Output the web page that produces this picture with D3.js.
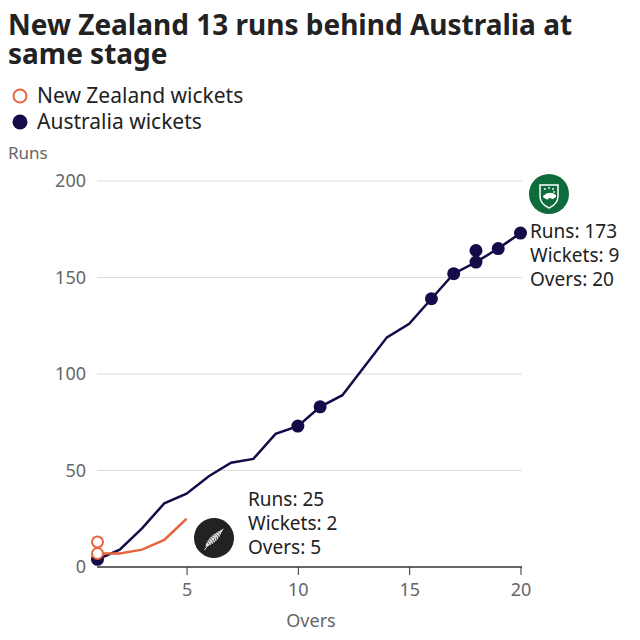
<!DOCTYPE html>
<html>
<head>
<meta charset="utf-8">
<script src="https://cdn.jsdelivr.net/npm/d3@7"></script>
<style>
  body { margin: 0; background: #fff; }
  text { font-family: "Noto Sans", "Open Sans", sans-serif; }
</style>
</head>
<body>
<div id="chart"></div>
<script>
// runs at end of each over
let overs = [1, 2, 3, 4, 5, 6, 7, 8, 9, 10, 11, 12, 13, 14, 15, 16, 17, 18, 19, 20];
let ausRuns = [4, 9, 20, 33, 38, 47, 54, 56, 69, 73, 83, 89, 104, 119, 126, 139, 152, 158, 165, 173];
let nzOvers = [1, 2, 3, 4, 5];
let nzRuns = [7, 7, 9, 14, 25];

// wickets: [over, runs]
let ausWickets = [[1, 4], [10, 73], [11, 83], [16, 139], [17, 152], [18, 158], [18, 164], [19, 165], [20, 173]];
let nzWickets = [[1, 7], [1, 13]];

let yTicks = [0, 50, 100, 150, 200];
let xTicks = [5, 10, 15, 20];

let nzColor = '#e8643c';
let ausColor = '#140c48';

let width = 640, height = 640;
let x = d3.scaleLinear().domain([1, 20]).range([97.5, 520.5]);
let y = d3.scaleLinear().domain([0, 200]).range([567, 181]);

let svg = d3.select('#chart').append('svg')
    .attr('width', width)
    .attr('height', height);

// title
let title = svg.append('text').attr('x', 8).attr('y', 35)
    .attr('font-size', 28).attr('font-weight', 'bold').attr('fill', '#222');
title.append('tspan').attr('x', 8).attr('y', 35).text('New Zealand 13 runs behind Australia at');
title.append('tspan').attr('x', 8).attr('y', 64).text('same stage');

// legend
svg.append('circle').attr('cx', 20).attr('cy', 96).attr('r', 6.5)
    .attr('fill', '#fff').attr('stroke', nzColor).attr('stroke-width', 2);
svg.append('text').attr('x', 37).attr('y', 103).attr('font-size', 21).attr('fill', '#222')
    .text('New Zealand wickets');
svg.append('circle').attr('cx', 20).attr('cy', 122).attr('r', 7.5).attr('fill', ausColor);
svg.append('text').attr('x', 37).attr('y', 129).attr('font-size', 21).attr('fill', '#222')
    .text('Australia wickets');

// y axis label
svg.append('text').attr('x', 8).attr('y', 159).attr('font-size', 17).attr('fill', '#666')
    .text('Runs');

// grid
let grid = svg.append('g');
grid.selectAll('line').data(yTicks.filter(d => d > 0)).enter().append('line')
    .attr('x1', 97).attr('x2', 522)
    .attr('y1', d => y(d)).attr('y2', d => y(d))
    .attr('stroke', '#dcdcdc').attr('stroke-width', 1);
grid.selectAll('text').data(yTicks).enter().append('text')
    .attr('x', 86).attr('y', d => y(d) + 6)
    .attr('text-anchor', 'end').attr('font-size', 18).attr('fill', '#666')
    .text(d => d);

// x axis
let xAxis = d3.axisBottom(x).tickValues(xTicks).tickSize(8).tickSizeOuter(0).tickPadding(8);
let gx = svg.append('g').attr('transform', 'translate(0,' + y(0) + ')').call(xAxis);
gx.select('.domain').attr('stroke', '#333').attr('stroke-width', 1.5)
    .attr('d', 'M97,0H522');
gx.selectAll('.tick line').attr('stroke', '#333');
gx.selectAll('.tick text').attr('font-size', 18).attr('fill', '#666')
    .attr('font-family', '"Noto Sans", sans-serif');
svg.append('text').attr('x', 311).attr('y', 627).attr('text-anchor', 'middle')
    .attr('font-size', 18).attr('fill', '#666').text('Overs');

// lines
let line = d3.line().x(d => x(d[0])).y(d => y(d[1]));
svg.append('path').datum(d3.zip(overs, ausRuns))
    .attr('d', line).attr('fill', 'none').attr('stroke', ausColor).attr('stroke-width', 2.5);
svg.append('path').datum(d3.zip(nzOvers, nzRuns))
    .attr('d', line).attr('fill', 'none').attr('stroke', nzColor).attr('stroke-width', 2.5);

// wicket markers
svg.selectAll('.aw').data(ausWickets).enter().append('circle')
    .attr('cx', d => x(d[0])).attr('cy', d => y(d[1])).attr('r', 6.5)
    .attr('fill', ausColor);
svg.selectAll('.nw').data(nzWickets).enter().append('circle')
    .attr('cx', d => x(d[0])).attr('cy', d => y(d[1])).attr('r', 5.5)
    .attr('fill', '#fff').attr('stroke', nzColor).attr('stroke-width', 2);

// NZ logo (silver fern)
let nzLogo = svg.append('g').attr('transform', 'translate(214,538) rotate(-40)');
nzLogo.append('circle').attr('r', 20).attr('fill', '#222');
nzLogo.append('path')
    .attr('d', 'M-12,1 Q-4,-6 13,-1 Q-2,7 -12,1 Z')
    .attr('fill', '#ddd');
for (let i = 0; i < 9; i++) {
    let px = -9 + i * 2.4;
    nzLogo.append('path')
        .attr('d', 'M' + px + ',-6 L' + (px + 1.6) + ',0 L' + px + ',6')
        .attr('stroke', '#222').attr('stroke-width', 0.7).attr('fill', 'none');
}
nzLogo.append('path').attr('d', 'M-15,3 Q-2,-1 13,-1')
    .attr('stroke', '#eee').attr('stroke-width', 0.9).attr('fill', 'none');

// NZ annotation
let nzText = ['Runs: 25', 'Wickets: 2', 'Overs: 5'];
svg.selectAll('.nzt').data(nzText).enter().append('text')
    .attr('x', 248).attr('y', (d, i) => 506 + i * 24)
    .attr('font-size', 19).attr('fill', '#222').text(d => d);

// Australia logo
let ausLogo = svg.append('g').attr('transform', 'translate(549,194)');
ausLogo.append('circle').attr('r', 20).attr('fill', '#0e6b3b');
ausLogo.append('path').attr('d', 'M-9,-9 H9 V2 Q9,10 0,14 Q-9,10 -9,2 Z')
    .attr('fill', 'none').attr('stroke', '#fff').attr('stroke-width', 1.5);
ausLogo.append('path').attr('d', 'M-6,2 Q0,-4 7,1 L7,3 Q0,9 -6,3 Z').attr('fill', '#fff');
ausLogo.append('circle').attr('cx', 1).attr('cy', 6).attr('r', 2).attr('fill', '#0e6b3b');
[[-4, -5], [0, -6], [4, -5], [5, -2]].forEach(function(p) {
    ausLogo.append('circle').attr('cx', p[0]).attr('cy', p[1]).attr('r', 0.9).attr('fill', '#fff');
});

// Australia annotation
let ausText = ['Runs: 173', 'Wickets: 9', 'Overs: 20'];
svg.selectAll('.aut').data(ausText).enter().append('text')
    .attr('x', 530).attr('y', (d, i) => 238 + i * 24)
    .attr('font-size', 19).attr('fill', '#222').text(d => d);
</script>
</body>
</html>
